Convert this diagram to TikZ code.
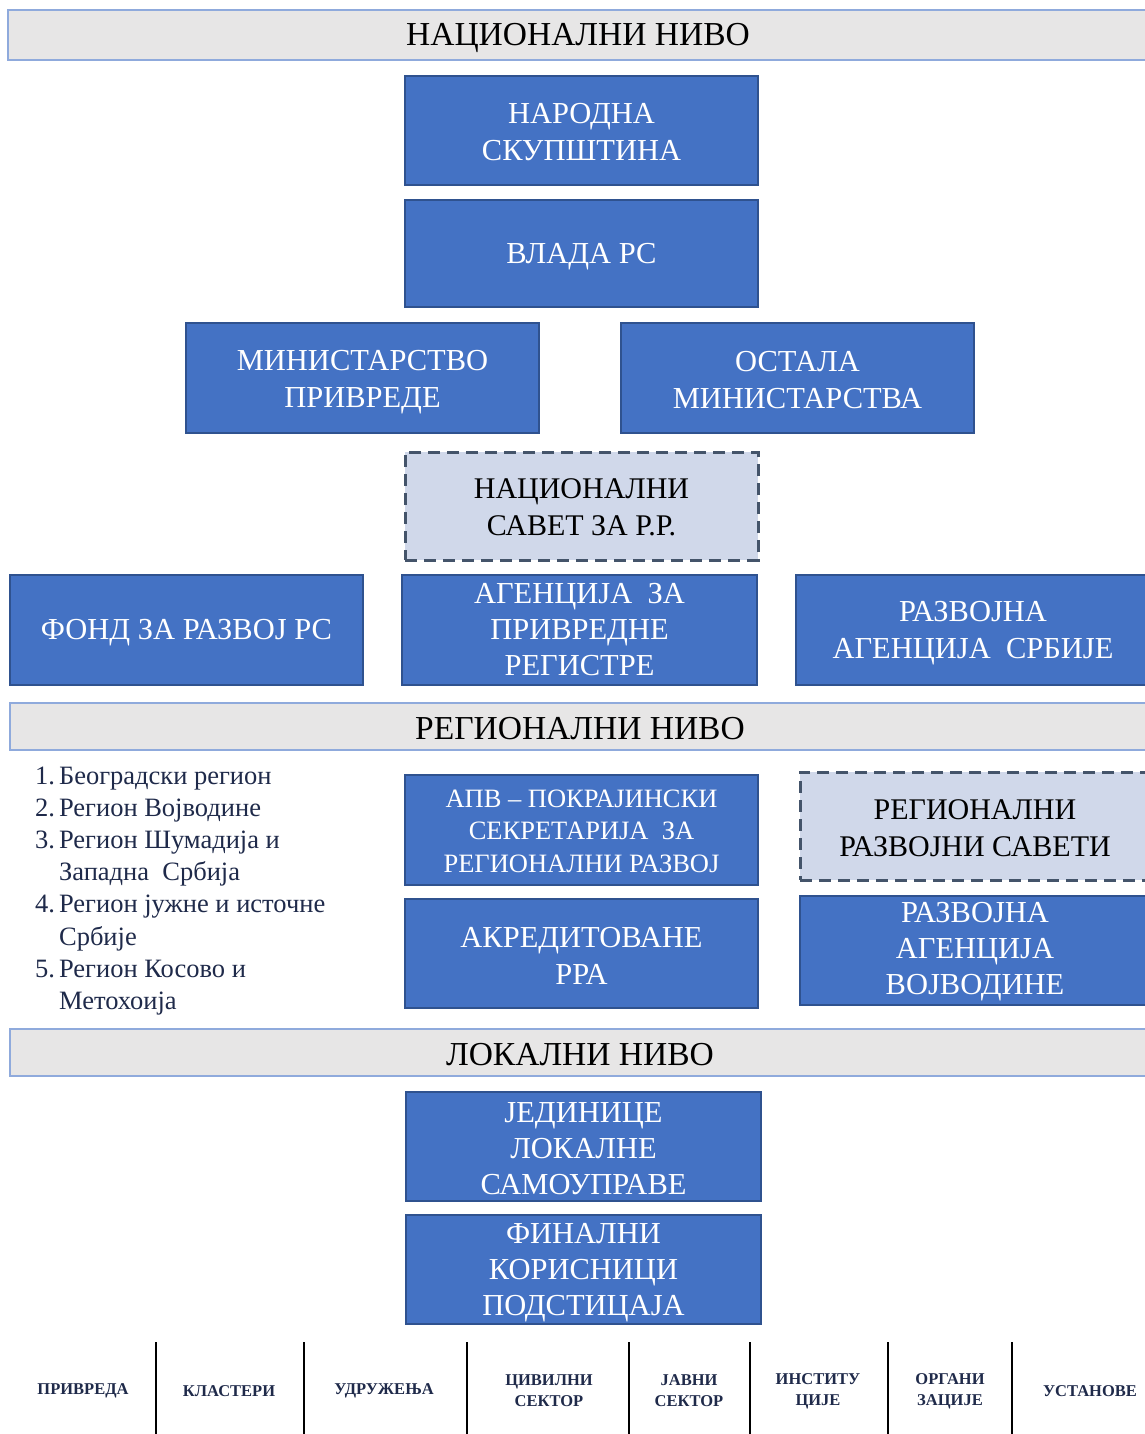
\documentclass[tikz,border=0pt]{standalone}
\usepackage{fontspec}
\setmainfont{Liberation Serif}
\definecolor{boxblue}{HTML}{4472C4}
\definecolor{boxedge}{HTML}{2F528F}
\definecolor{hdrfill}{HTML}{E7E6E6}
\definecolor{hdredge}{HTML}{8FAADC}
\definecolor{dashfill}{HTML}{D0D8EA}
\definecolor{dashedge}{HTML}{44546A}
\definecolor{navy}{HTML}{1F2A4A}
\newcommand\orgbox[7]{% name, style, position, width, height, shift, text
  \node[#2,minimum width=#4,minimum height=#5] (#1) at #3 {};
  \node[#2 text] (#1-t) at ([yshift=-#6]#1.center) {#7};}
\begin{document}
\begin{tikzpicture}[x=1pt,y=-1pt,
  bluebox/.style={rectangle,fill=boxblue,draw=boxedge,line width=1.5pt,inner sep=0pt},
  bluebox text/.style={inner sep=0pt,text=white,align=center,font=\fontsize{30.5}{37}\selectfont},
  bluebox3/.style={bluebox},
  bluebox3 text/.style={bluebox text,font=\fontsize{30.5}{36}\selectfont},
  apvbox/.style={bluebox},
  apvbox text/.style={bluebox text,font=\fontsize{26.5}{32.5}\selectfont},
  dashbox/.style={rectangle,fill=dashfill,draw=dashedge,line width=3pt,dash pattern=on 12pt off 7pt,
    inner sep=0pt},
  dashbox text/.style={inner sep=0pt,text=black,align=center,font=\fontsize{30}{37}\selectfont},
  hdrbox/.style={rectangle,fill=hdrfill,draw=hdredge,line width=1.5pt,inner sep=0pt},
  hdrbox text/.style={inner sep=0pt,text=black,font=\fontsize{33.5}{36}\selectfont},
  botlabel/.style={inner sep=0pt,text=navy,align=center,font=\fontsize{16.5}{21}\selectfont\bfseries},
  sepline/.style={line width=2.5pt,black}]
\useasboundingbox (0,0) rectangle (1145,1434);
\clip (0,0) rectangle (1145,1434);
\fill[white] (0,0) rectangle (1145,1434);

% headers
\orgbox{h1}{hdrbox}{(578,35)}{1140pt}{50pt}{3pt}{НАЦИОНАЛНИ НИВО}
\orgbox{h2}{hdrbox}{(580,726.5)}{1140pt}{47pt}{2pt}{РЕГИОНАЛНИ НИВО}
\orgbox{h3}{hdrbox}{(580,1052.5)}{1140pt}{47pt}{2pt}{ЛОКАЛНИ НИВО}

% national
\orgbox{ns}{bluebox}{(581.5,130.5)}{353pt}{109pt}{2pt}{НАРОДНА\\СКУПШТИНА}
\orgbox{vl}{bluebox}{(581.5,253.5)}{353pt}{107pt}{3pt}{ВЛАДА РС}
\orgbox{mp}{bluebox}{(362.5,378)}{353pt}{110pt}{4pt}{МИНИСТАРСТВО\\ПРИВРЕДЕ}
\orgbox{om}{bluebox}{(797.5,378)}{353pt}{110pt}{2pt}{ОСТАЛА\\МИНИСТАРСТВА}
\orgbox{nsr}{dashbox}{(581.5,506)}{353pt}{108pt}{1.5pt}{НАЦИОНАЛНИ\\САВЕТ ЗА Р.Р.}
\orgbox{fond}{bluebox}{(186.5,630)}{353pt}{110pt}{3pt}{ФОНД ЗА РАЗВОЈ РС}
\orgbox{apr}{bluebox3}{(579.5,630)}{355pt}{110pt}{0pt}{АГЕНЦИЈА\ \ ЗА\\ПРИВРЕДНЕ\\РЕГИСТРЕ}
\orgbox{ras}{bluebox}{(973,630)}{354pt}{110pt}{3pt}{РАЗВОЈНА\\АГЕНЦИЈА\ \ СРБИЈЕ}

% regional
\node[inner sep=0pt,anchor=base west,font=\fontsize{26.5}{32.2}\selectfont,text=navy] (list) at (35,784)
  {\begin{tabular}[t]{@{}l@{\hspace{4pt}}l@{}}
  1.& Београдски регион\\
  2.& Регион Војводине\\
  3.& Регион Шумадија и\\
    & Западна\ \ Србија\\
  4.& Регион јужне и источне\\
    & Србије\\
  5.& Регион Косово и\\
    & Метохоија
  \end{tabular}};
\orgbox{apv}{apvbox}{(581.5,830)}{353pt}{110pt}{1pt}{АПВ -- ПОКРАЈИНСКИ\\СЕКРЕТАРИЈА\ \ ЗА\\РЕГИОНАЛНИ РАЗВОЈ}
\orgbox{rrs}{dashbox}{(975,826)}{350pt}{108pt}{2pt}{РЕГИОНАЛНИ\\РАЗВОЈНИ САВЕТИ}
\orgbox{akr}{bluebox}{(581.5,953.5)}{353pt}{109pt}{2pt}{АКРЕДИТОВАНЕ\\РРА}
\orgbox{rav}{bluebox3}{(975,950.5)}{350pt}{109pt}{1pt}{РАЗВОЈНА\\АГЕНЦИЈА\\ВОЈВОДИНЕ}

% local
\orgbox{jls}{bluebox3}{(583.5,1146.5)}{355pt}{109pt}{2pt}{ЈЕДИНИЦЕ\\ЛОКАЛНЕ\\САМОУПРАВЕ}
\orgbox{fkp}{bluebox3}{(583.5,1269.5)}{355pt}{109pt}{3pt}{ФИНАЛНИ\\КОРИСНИЦИ\\ПОДСТИЦАЈА}

% bottom row
\foreach \x/\n in {156/s1,304/s2,467/s3,629/s4,750/s5,888/s6,1012/s7}{
  \coordinate (\n a) at (\x,1342);
  \coordinate (\n b) at (\x,1440);
  \draw[sepline] (\n a) -- (\n b);
}
\node[botlabel] (b1) at (83,1391) {ПРИВРЕДА};
\node[botlabel] (b2) at (229,1391) {КЛАСТЕРИ};
\node[botlabel] (b3) at (384,1391) {УДРУЖЕЊА};
\node[botlabel] (b4) at (549,1391) {ЦИВИЛНИ\\СЕКТОР};
\node[botlabel] (b5) at (689,1391) {ЈАВНИ\\СЕКТОР};
\node[botlabel] (b6) at (818,1391) {ИНСТИТУ\\ЦИЈЕ};
\node[botlabel] (b7) at (950,1391) {ОРГАНИ\\ЗАЦИЈЕ};
\node[botlabel] (b8) at (1090,1391) {УСТАНОВЕ};
\end{tikzpicture}
\end{document}
